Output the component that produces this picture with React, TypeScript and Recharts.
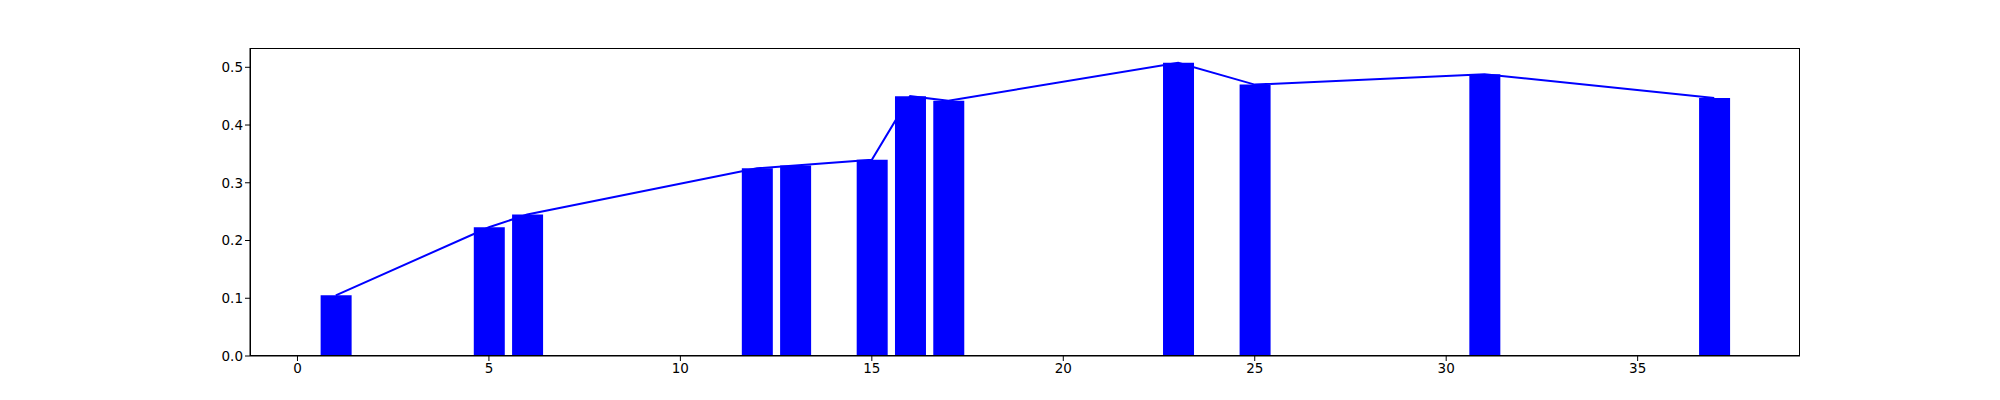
import React from 'react';
import { ComposedChart, Bar, Line, XAxis, YAxis } from 'recharts';

const xs = [1, 5, 6, 12, 13, 15, 16, 17, 23, 25, 31, 37];
const values = [0.105, 0.223, 0.245, 0.325, 0.33, 0.34, 0.45, 0.442, 0.508, 0.47, 0.488, 0.447];
const xTicks = [0, 5, 10, 15, 20, 25, 30, 35];
const yTicks = [0, 0.1, 0.2, 0.3, 0.4, 0.5];

const data = xs.map((x, i) => ({ x, v: values[i] }));

const tick = { fontSize: 13.5, fill: '#000', fontFamily: 'DejaVu Sans' };

const App = () => (
  <div style={{ position: 'absolute', left: 0, top: 0, width: 2000, height: 400, background: '#fff' }}>
    <ComposedChart width={2000} height={400} data={data} margin={{ top: 48, right: 200, bottom: 0, left: 190 }}>
      <XAxis
        dataKey="x"
        type="number"
        domain={[-1.24, 39.24]}
        ticks={xTicks}
        tick={tick}
        stroke="#000"
        tickSize={5}
        height={44}
        allowDataOverflow
      />
      <YAxis
        type="number"
        domain={[0, 0.5334]}
        ticks={yTicks}
        tickFormatter={(v: number) => v.toFixed(1)}
        tick={tick}
        stroke="#000"
        tickSize={5}
        width={60}
        allowDataOverflow
      />
      <Bar dataKey="v" fill="#0000ff" barSize={31} isAnimationActive={false} />
      <Line dataKey="v" stroke="#0000ff" strokeWidth={2} dot={false} isAnimationActive={false} />
    </ComposedChart>
    <div style={{ position: 'absolute', left: 250, top: 48, width: 1550, height: 308, border: '1px solid #000', boxSizing: 'border-box', pointerEvents: 'none' }} />
  </div>
);

export default App;
